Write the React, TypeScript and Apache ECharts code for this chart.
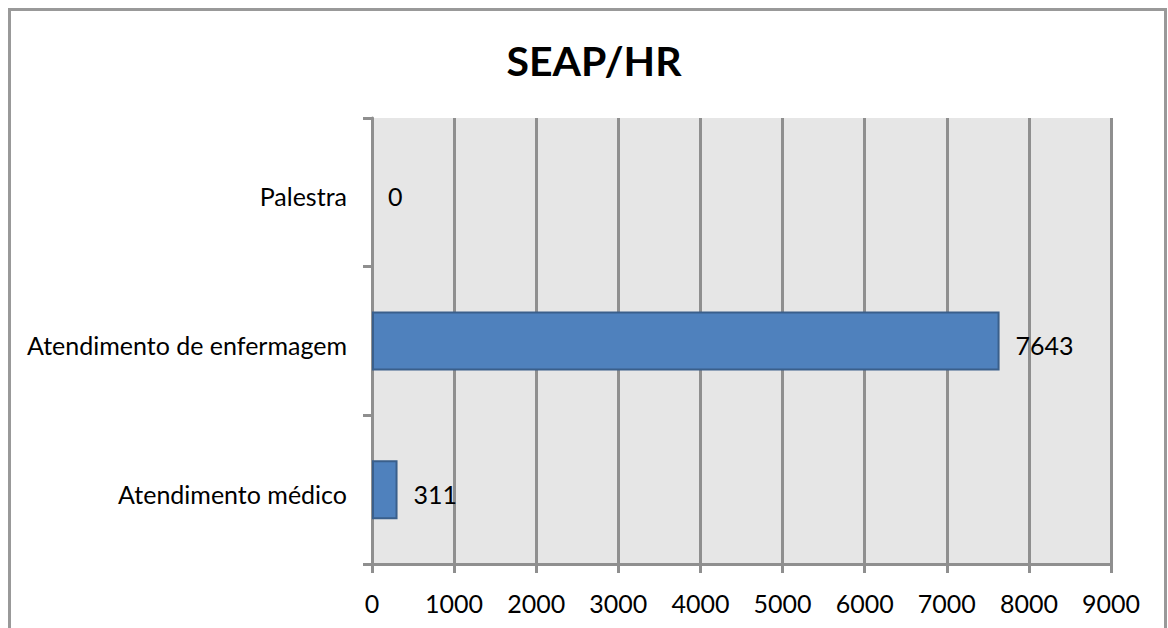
import React, { useEffect, useRef } from "react";
import * as echarts from "echarts";

const title = "SEAP/HR";
const categories = ["Atendimento médico", "Atendimento de enfermagem", "Palestra"];
const values = [311, 7643, 0];
const xMin = 0;
const xMax = 9000;
const xInterval = 1000;

const FONT = "Lato";

const richShift = {
  s: { fontFamily: FONT, fontSize: 25, color: "#000", padding: [8, 0, 0, 0] },
};

export default function App() {
  const ref = useRef<HTMLDivElement>(null);
  useEffect(() => {
    if (!ref.current) return;
    const chart = echarts.init(ref.current, null, { renderer: "svg" });
    chart.setOption({
      animation: false,
      backgroundColor: "#ffffff",
      title: {
        text: title,
        left: 589,
        top: 35,
        textAlign: "center",
        textStyle: { fontFamily: FONT, fontWeight: "bold", fontSize: 41, color: "#000" },
      },
      graphic: [
        {
          type: "rect",
          shape: { x: 9.5, y: 9.5, width: 1156, height: 700 },
          style: { fill: "none", stroke: "#999999", lineWidth: 3 },
          silent: true,
        },
      ],
      grid: {
        left: 372,
        top: 118,
        right: 57,
        bottom: 64,
        show: true,
        backgroundColor: "#e6e6e6",
        borderWidth: 0,
      },
      xAxis: {
        type: "value",
        min: xMin,
        max: xMax,
        interval: xInterval,
        axisLine: { show: true, lineStyle: { color: "#8f8f8f", width: 3 } },
        axisTick: { show: true, length: 9, lineStyle: { color: "#8f8f8f", width: 3 } },
        axisLabel: {
          fontFamily: FONT,
          fontSize: 25,
          color: "#000",
          margin: 26,
          formatter: (v: number) => String(v),
        },
        splitLine: { show: true, lineStyle: { color: "#8f8f8f", width: 3 } },
      },
      yAxis: {
        type: "category",
        data: categories,
        axisLine: { show: true, lineStyle: { color: "#8f8f8f", width: 3 } },
        axisTick: { show: true, length: 9, alignWithLabel: false, lineStyle: { color: "#8f8f8f", width: 3 } },
        axisLabel: {
          fontFamily: FONT,
          fontSize: 25,
          color: "#000",
          margin: 25,
          formatter: (v: string) => "{s|" + v + "}",
          rich: richShift,
        },
        splitLine: { show: false },
      },
      series: [
        {
          type: "bar",
          data: values.map((v) => ({
            value: v,
            itemStyle: v === 0 ? { borderWidth: 0 } : undefined,
          })),
          barWidth: 59,
          itemStyle: { color: "#4f81bd", borderColor: "#3a5f8b", borderWidth: 2 },
          label: {
            show: true,
            position: "right",
            distance: 16,
            fontFamily: FONT,
            fontSize: 25,
            color: "#000",
            formatter: (p: any) => "{s|" + p.value + "}",
            rich: richShift,
          },
        },
      ],
    });
    return () => chart.dispose();
  }, []);
  return (
    <div
      ref={ref}
      style={{ position: "fixed", left: 0, top: 0, width: 1168, height: 628 }}
    />
  );
}
